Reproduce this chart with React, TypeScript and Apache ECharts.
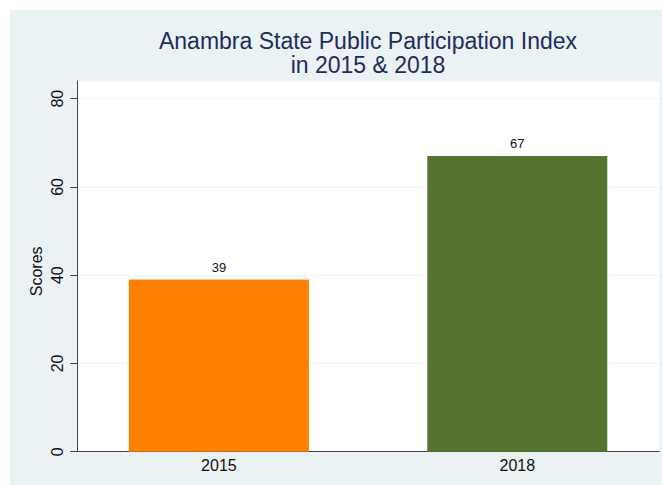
import React, { useEffect, useRef } from "react";
import * as echarts from "echarts";

const categories = ["2015", "2018"];
const scores = [39, 67];
const barColors = ["#ff7f00", "#55742f"];
const yTicks = [0, 20, 40, 60, 80];
const titleLines = ["Anambra State Public Participation Index", "in 2015 & 2018"];
const yTitle = "Scores";

const FONT = "'Liberation Sans', Arial, Helvetica, sans-serif";

export default function App() {
  const ref = useRef<HTMLDivElement>(null);
  useEffect(() => {
    if (!ref.current) return;
    const chart = echarts.init(ref.current, undefined, { renderer: "svg" });
    const option: any = {
      animation: false,
      backgroundColor: "#ffffff",
      textStyle: { fontFamily: FONT },
      graphic: [
        {
          type: "rect",
          z: -100,
          silent: true,
          shape: { x: 10, y: 10, width: 652, height: 475 },
          style: { fill: "#eaf2f3" },
        },
      ],
      title: {
        text: titleLines.join("\n"),
        left: 368,
        textAlign: "center",
        top: 29,
        padding: 0,
        textStyle: {
          fontFamily: FONT,
          fontSize: 23,
          lineHeight: 24,
          fontWeight: "normal",
          color: "#1c2d5a",
        },
      },
      grid: {
        left: 77.3,
        right: 2.7,
        top: 81,
        bottom: 33.3,
        show: true,
        backgroundColor: "#ffffff",
        borderWidth: 0,
        containLabel: false,
        outerBoundsMode: "none",
      },
      xAxis: {
        type: "value",
        min: -0.4745,
        max: 1.4759,
        axisLine: { show: true, onZero: false, lineStyle: { color: "#444", width: 1 } },
        axisTick: { show: false },
        splitLine: { show: false },
        axisLabel: {
          customValues: categories.map((_, i) => i),
          formatter: (v: number) => categories[Math.round(v)] ?? "",
          fontSize: 16,
          color: "#111",
          margin: 6,
          fontFamily: FONT,
        },
      },
      yAxis: {
        type: "value",
        min: 0,
        max: 84,
        interval: 20,
        name: yTitle,
        nameLocation: "middle",
        nameGap: 33,
        nameMoveOverlap: false,
        nameRotate: 90,
        nameTextStyle: {
          fontSize: 16,
          color: "#111",
          fontFamily: FONT,
          padding: [0, 10, 0, 0],
        },
        axisLine: { show: true, onZero: false, lineStyle: { color: "#444", width: 1 } },
        axisTick: {
          show: true,
          length: 7,
          customValues: yTicks,
          lineStyle: { color: "#444" },
        },
        axisLabel: {
          customValues: yTicks,
          rotate: 90,
          fontSize: 16,
          color: "#111",
          margin: 12,
          fontFamily: FONT,
        },
        splitLine: { show: true, lineStyle: { color: "#eaf2f3", width: 1 } },
      },
      series: [
        {
          type: "bar",
          barWidth: 180,
          data: scores.map((v, i) => ({
            value: [i, v],
            itemStyle: { color: barColors[i] },
          })),
          label: {
            show: true,
            position: "top",
            distance: 6,
            fontSize: 13,
            color: "#111",
            fontFamily: FONT,
            formatter: (p: any) => String(p.value[1]),
          },
        },
      ],
    };
    chart.setOption(option);
    return () => chart.dispose();
  }, []);
  return (
    <div
      ref={ref}
      style={{ position: "fixed", left: 0, top: 0, width: 662, height: 485 }}
    />
  );
}
